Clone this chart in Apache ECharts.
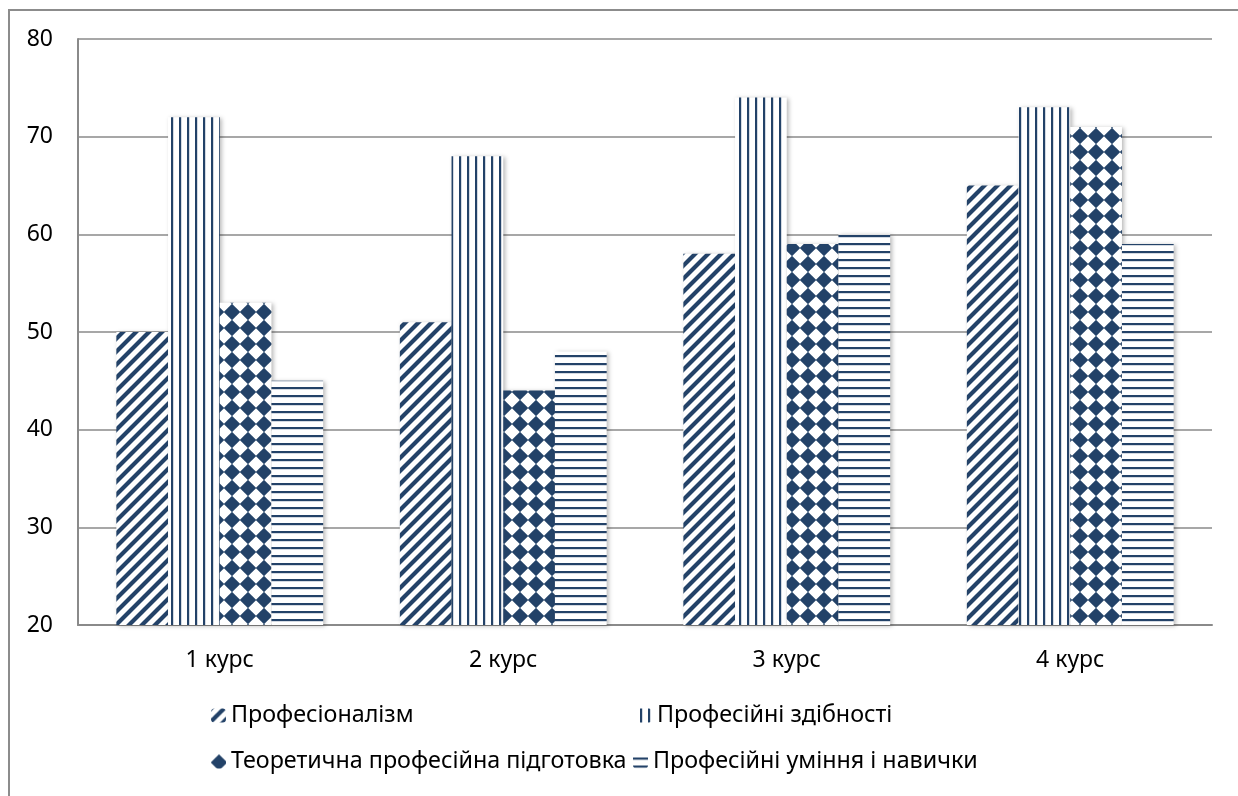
<!DOCTYPE html>
<html>
<head>
<meta charset="utf-8">
<script src="https://cdn.jsdelivr.net/npm/echarts@6/dist/echarts.min.js"></script>
<style>
  html, body { margin: 0; padding: 0; background: #fff; }
  #frame { position: absolute; left: 8px; top: 9px; width: 1240px; height: 800px;
           border-left: 2px solid #8c8c8c; border-top: 2px solid #8c8c8c; box-sizing: border-box; }
  #chart { position: absolute; left: 0; top: 0; width: 1238px; height: 796px; }
</style>
</head>
<body>
<div id="frame"></div>
<div id="chart"></div>
<script>
// Курси (категорії осі X)
const courses = ['1 курс', '2 курс', '3 курс', '4 курс'];

// Назви рядів
const seriesNames = [
  'Професіоналізм',
  'Професійні здібності',
  'Теоретична професійна підготовка',
  'Професійні уміння і навички'
];

// Значення рядів по курсах
const professionalism   = [50, 51, 58, 65];
const abilities         = [72, 68, 74, 73];
const theoryTraining    = [53, 44, 59, 71];
const skills            = [45, 48, 60, 59];

// Шкала осі Y
const yMin = 20, yMax = 80, yStep = 10;

const INK = '#234268';

function tile(w, h, draw) {
  const c = document.createElement('canvas');
  c.width = w; c.height = h;
  const g = c.getContext('2d');
  g.fillStyle = '#ffffff';
  g.fillRect(0, 0, w, h);
  g.fillStyle = INK;
  g.strokeStyle = INK;
  draw(g, w, h);
  return { image: c, repeat: 'repeat' };
}

// Діагональне штрихування "/"
const diagFill = tile(13, 13, (g, w) => {
  g.lineWidth = 4.2;
  g.beginPath();
  g.moveTo(-w, 2 * w); g.lineTo(2 * w, -w);
  g.moveTo(-w, w);     g.lineTo(w, -w);
  g.moveTo(0, 2 * w);  g.lineTo(2 * w, 0);
  g.stroke();
});

// Вертикальні смуги
const vertFill = tile(8, 8, (g) => {
  g.fillRect(3, 0, 2.2, 8);
});

// Темні ромби в шаховому порядку (з перенесенням через краї плитки)
const diamondFill = tile(16, 16, (g) => {
  const r = 8.2;
  [[8, 8], [8, -8], [8, 24], [-8, 8], [24, 8]].forEach(([cx, cy]) => {
    g.beginPath();
    g.moveTo(cx, cy - r); g.lineTo(cx + r, cy); g.lineTo(cx, cy + r); g.lineTo(cx - r, cy);
    g.closePath();
    g.fill();
  });
});

// Горизонтальні смуги
const horizFill = tile(8, 8, (g) => {
  g.fillRect(0, 3, 8, 2.2);
});

const fills = [diagFill, vertFill, diamondFill, horizFill];
const values = [professionalism, abilities, theoryTraining, skills];

const FONT = 'Noto Sans';

const series = seriesNames.map((name, i) => ({
  name: name,
  type: 'bar',
  data: values[i],
  barWidth: 51.7,
  barGap: '0%',
  itemStyle: {
    color: fills[i],
    shadowColor: 'rgba(0,0,0,0.28)',
    shadowBlur: 4,
    shadowOffsetX: 2,
    shadowOffsetY: 1
  },
  emphasis: { disabled: true }
}));

// Розташування пунктів легенди (дві колонки, два рядки)
const legendSpots = [
  { left: 211, top: 704 },
  { left: 637, top: 704 },
  { left: 211, top: 750 },
  { left: 633, top: 750 }
];

const legends = seriesNames.map((name, i) => ({
  data: [name],
  left: legendSpots[i].left,
  top: legendSpots[i].top,
  orient: 'horizontal',
  itemWidth: 15,
  itemHeight: 14,
  padding: 0,
  selectedMode: false,
  textStyle: { fontFamily: FONT, fontSize: 23.3, color: '#000' }
}));

const chart = echarts.init(document.getElementById('chart'), null, { renderer: 'canvas' });
chart.setOption({
  animation: false,
  backgroundColor: 'transparent',
  grid: { left: 78, right: 26, top: 39, bottom: 171, containLabel: false },
  legend: legends,
  xAxis: {
    type: 'category',
    data: courses,
    axisLine: { show: true, lineStyle: { color: '#8a8a8a', width: 2 } },
    axisTick: { show: false },
    axisLabel: { fontFamily: FONT, fontSize: 23, color: '#000', margin: 24 }
  },
  yAxis: {
    type: 'value',
    min: yMin,
    max: yMax,
    interval: yStep,
    axisLine: { show: true, lineStyle: { color: '#8a8a8a', width: 2 } },
    axisTick: { show: false },
    axisLabel: { fontFamily: FONT, fontSize: 23, color: '#000', margin: 25 },
    splitLine: { show: true, lineStyle: { color: '#8a8a8a', width: 1.6 } }
  },
  series: series
});
</script>
</body>
</html>
